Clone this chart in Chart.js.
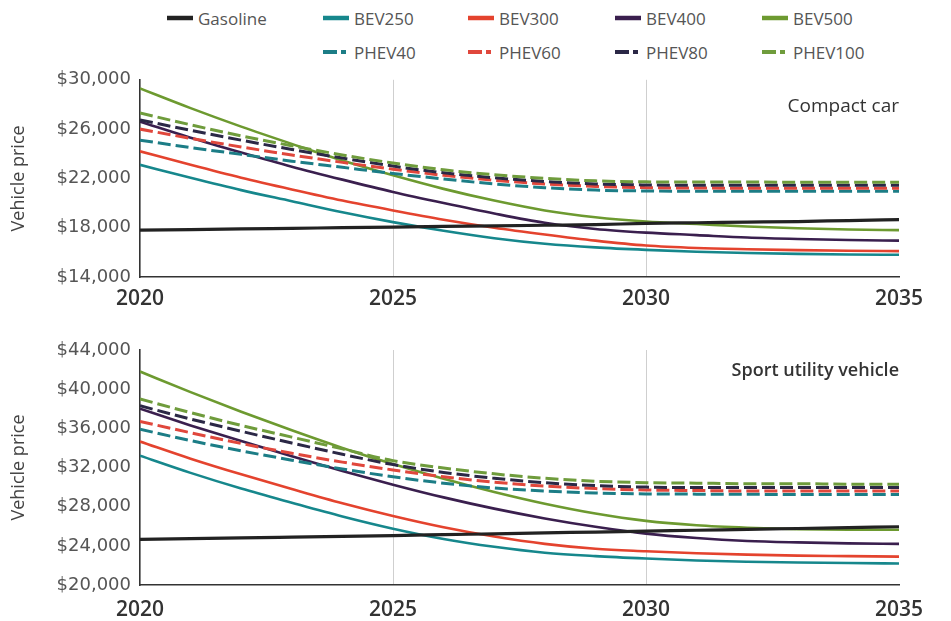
<!DOCTYPE html>
<html>
<head>
<meta charset="utf-8">
<script src="https://cdn.jsdelivr.net/npm/chart.js@4.4.1/dist/chart.umd.min.js"></script>
<style>
  html, body { margin: 0; padding: 0; background: #fff; }
  body { width: 951px; height: 621px; position: relative; overflow: hidden; font-family: "Open Sans", sans-serif; }
  #legend { position: absolute; left: 0; top: 0; width: 951px; height: 70px; }
  .item { position: absolute; display: flex; align-items: center; height: 24px; font-size: 17px; color: #555; white-space: nowrap; }
  .item svg { margin-right: 5px; }
  .panel { position: absolute; left: 0; width: 951px; }
  #p1 { top: 60px; height: 260px; }
  #p2 { top: 330px; height: 291px; }
</style>
</head>
<body>
<div id="legend"></div>
<div class="panel" id="p1"><canvas id="c1"></canvas></div>
<div class="panel" id="p2"><canvas id="c2"></canvas></div>
<script>
// Model years on the horizontal axis
const years = [2020, 2021, 2022, 2023, 2024, 2025, 2026, 2027, 2028, 2029, 2030, 2031, 2032, 2033, 2034, 2035];
const xTicks = [2020, 2025, 2030, 2035];

// Compact car prices (USD)
const compactGasoline = [17800, 17850, 17900, 17950, 18000, 18050, 18100, 18150, 18200, 18250, 18350, 18400, 18450, 18500, 18580, 18650];
const compactBEV250 = [23100, 22050, 21050, 20150, 19250, 18450, 17750, 17150, 16700, 16400, 16200, 16050, 15950, 15880, 15830, 15800];
const compactBEV300 = [24200, 23100, 22050, 21100, 20200, 19400, 18650, 18000, 17450, 16950, 16550, 16350, 16250, 16180, 16130, 16100];
const compactBEV400 = [26600, 25300, 24100, 22950, 21900, 20900, 20000, 19150, 18400, 17900, 17600, 17400, 17200, 17080, 17000, 16950];
const compactBEV500 = [29300, 27700, 26200, 24800, 23450, 22250, 21150, 20200, 19400, 18850, 18500, 18300, 18100, 17950, 17850, 17800];
const compactPHEV40 = [25100, 24500, 23950, 23400, 22900, 22400, 21950, 21550, 21250, 21050, 20980, 20960, 20950, 20950, 20950, 20950];
const compactPHEV60 = [26000, 25250, 24550, 23900, 23300, 22750, 22250, 21850, 21550, 21350, 21250, 21220, 21200, 21200, 21200, 21200];
const compactPHEV80 = [26750, 25900, 25100, 24350, 23650, 23000, 22450, 22050, 21750, 21550, 21470, 21450, 21450, 21440, 21440, 21440];
const compactPHEV100 = [27300, 26350, 25450, 24650, 23900, 23250, 22700, 22300, 22000, 21800, 21720, 21700, 21700, 21690, 21680, 21680];

// Sport utility vehicle prices (USD)
const suvGasoline = [24650, 24730, 24810, 24890, 24970, 25050, 25140, 25230, 25320, 25410, 25500, 25590, 25680, 25770, 25860, 25950];
const suvBEV250 = [33200, 31450, 29850, 28400, 27000, 25750, 24700, 23900, 23300, 22950, 22700, 22500, 22380, 22300, 22240, 22200];
const suvBEV300 = [34650, 32900, 31300, 29800, 28350, 27050, 25900, 24950, 24200, 23700, 23450, 23250, 23100, 23000, 22950, 22900];
const suvBEV400 = [38000, 36300, 34700, 33150, 31650, 30250, 28950, 27800, 26800, 25950, 25250, 24800, 24500, 24350, 24250, 24200];
const suvBEV500 = [41800, 39700, 37700, 35800, 34000, 32350, 30850, 29500, 28300, 27300, 26550, 26100, 25850, 25700, 25650, 25650];
const suvPHEV40 = [35900, 34750, 33700, 32750, 31850, 31050, 30400, 29900, 29600, 29400, 29300, 29280, 29260, 29250, 29250, 29250];
const suvPHEV60 = [36700, 35550, 34450, 33450, 32550, 31750, 31050, 30500, 30100, 29850, 29700, 29650, 29600, 29600, 29600, 29600];
const suvPHEV80 = [38300, 36950, 35700, 34500, 33350, 32300, 31500, 30900, 30450, 30150, 30000, 29950, 29950, 29950, 29950, 29950];
const suvPHEV100 = [39000, 37600, 36300, 35100, 33900, 32700, 31950, 31350, 30900, 30600, 30450, 30400, 30350, 30350, 30300, 30300];

// Y tick values for each panel
const compactTicks = [14000, 18000, 22000, 26000, 30000];
const suvTicks = [20000, 24000, 28000, 32000, 36000, 40000, 44000];

// Series styling
const seriesStyle = {
  Gasoline: { color: '#222222', dashed: false, width: 3.2 },
  BEV250:   { color: '#16878c', dashed: false, width: 2.6 },
  BEV300:   { color: '#e4432e', dashed: false, width: 2.6 },
  BEV400:   { color: '#3a1f4e', dashed: false, width: 2.6 },
  BEV500:   { color: '#6d9a30', dashed: false, width: 2.6 },
  PHEV40:   { color: '#1c7d86', dashed: true, width: 3 },
  PHEV60:   { color: '#e0473c', dashed: true, width: 3 },
  PHEV80:   { color: '#2b2846', dashed: true, width: 3 },
  PHEV100:  { color: '#6f9c3c', dashed: true, width: 3 }
};

// Legend (two rows)
const legendRows = [
  [['Gasoline', 167], ['BEV250', 323], ['BEV300', 468], ['BEV400', 615], ['BEV500', 762]],
  [['PHEV40', 323], ['PHEV60', 468], ['PHEV80', 615], ['PHEV100', 762]]
];
const legendTop = [6, 40];
const legendEl = document.getElementById('legend');
legendRows.forEach((row, r) => {
  row.forEach(([name, left]) => {
    const s = seriesStyle[name];
    const item = document.createElement('div');
    item.className = 'item';
    item.style.left = left + 'px';
    item.style.top = legendTop[r] + 'px';
    const sample = s.dashed
      ? `<line x1="0" y1="5" x2="14" y2="5" stroke="${s.color}" stroke-width="4"/><line x1="18" y1="5" x2="23" y2="5" stroke="${s.color}" stroke-width="4"/>`
      : `<line x1="0" y1="5" x2="26" y2="5" stroke="${s.color}" stroke-width="4.5"/>`;
    item.innerHTML = `<svg width="26" height="10">${sample}</svg><span>${name}</span>`;
    legendEl.appendChild(item);
  });
});

// Panel label drawn in the top-right corner of the plot area
const panelLabel = {
  id: 'panelLabel',
  afterDraw(chart, args, opts) {
    const { ctx, chartArea } = chart;
    ctx.save();
    ctx.font = opts.font;
    ctx.fillStyle = opts.color;
    ctx.textAlign = 'right';
    ctx.textBaseline = 'middle';
    ctx.fillText(opts.text, chartArea.right, chartArea.top + opts.offset);
    ctx.restore();
  }
};

function series(name, values) {
  const s = seriesStyle[name];
  return {
    label: name,
    data: years.map((x, i) => ({ x, y: values[i] })),
    borderColor: s.color,
    backgroundColor: s.color,
    borderWidth: s.width,
    borderDash: s.dashed ? [13, 5] : [],
    pointRadius: 0,
    cubicInterpolationMode: 'monotone',
    fill: false
  };
}

const money = v => '$' + v.toLocaleString('en-US');

function makeChart(canvasId, sets, yTicks, title, opts) {
  return new Chart(document.getElementById(canvasId), {
    type: 'line',
    data: { datasets: sets },
    options: {
      responsive: true,
      maintainAspectRatio: false,
      animation: false,
      devicePixelRatio: 1,
      layout: { padding: { top: opts.padTop, right: 52, left: 0, bottom: 0 } },
      plugins: {
        legend: { display: false },
        tooltip: { enabled: false },
        panelLabel: title
      },
      scales: {
        x: {
          type: 'linear',
          min: years[0],
          max: years[years.length - 1],
          afterBuildTicks: scale => { scale.ticks = xTicks.map(v => ({ value: v })); },
          afterFit: scale => { scale.height = opts.xHeight; },
          ticks: {
            callback: v => String(v),
            font: { family: 'Open Sans', size: 21, weight: '600' },
            color: '#333',
            padding: opts.xPad,
            maxRotation: 0
          },
          grid: {
            drawTicks: false,
            lineWidth: 1,
            color: c => (c.tick && (c.tick.value === 2025 || c.tick.value === 2030)) ? '#cfcfcf' : 'rgba(0,0,0,0)'
          },
          border: { display: true, color: '#333', width: 1.6 }
        },
        y: {
          min: yTicks[0],
          max: yTicks[yTicks.length - 1],
          afterBuildTicks: scale => { scale.ticks = yTicks.map(v => ({ value: v })); },
          afterFit: scale => { scale.width = 140; },
          ticks: {
            callback: v => money(v),
            font: { family: 'DejaVu Sans', size: 18 },
            color: '#555',
            padding: 9
          },
          grid: { display: false, drawTicks: false },
          border: { display: true, color: '#333', width: 1.6 },
          title: {
            display: true,
            text: 'Vehicle price',
            font: { family: 'Open Sans', size: 18, weight: '500' },
            color: '#444',
            padding: { top: 8, bottom: 0 }
          }
        }
      }
    },
    plugins: [panelLabel]
  });
}

makeChart('c1', [
  series('Gasoline', compactGasoline),
  series('PHEV100', compactPHEV100),
  series('PHEV80', compactPHEV80),
  series('PHEV60', compactPHEV60),
  series('PHEV40', compactPHEV40),
  series('BEV500', compactBEV500),
  series('BEV400', compactBEV400),
  series('BEV300', compactBEV300),
  series('BEV250', compactBEV250)
], compactTicks, { text: 'Compact car', font: '500 19px "Open Sans"', color: '#333', offset: 27 },
{ padTop: 17, xHeight: 43, xPad: 9 });

makeChart('c2', [
  series('Gasoline', suvGasoline),
  series('PHEV100', suvPHEV100),
  series('PHEV80', suvPHEV80),
  series('PHEV60', suvPHEV60),
  series('PHEV40', suvPHEV40),
  series('BEV500', suvBEV500),
  series('BEV400', suvBEV400),
  series('BEV300', suvBEV300),
  series('BEV250', suvBEV250)
], suvTicks, { text: 'Sport utility vehicle', font: '600 18px "Open Sans"', color: '#333', offset: 21 },
{ padTop: 20, xHeight: 36, xPad: 12 });
</script>
</body>
</html>
